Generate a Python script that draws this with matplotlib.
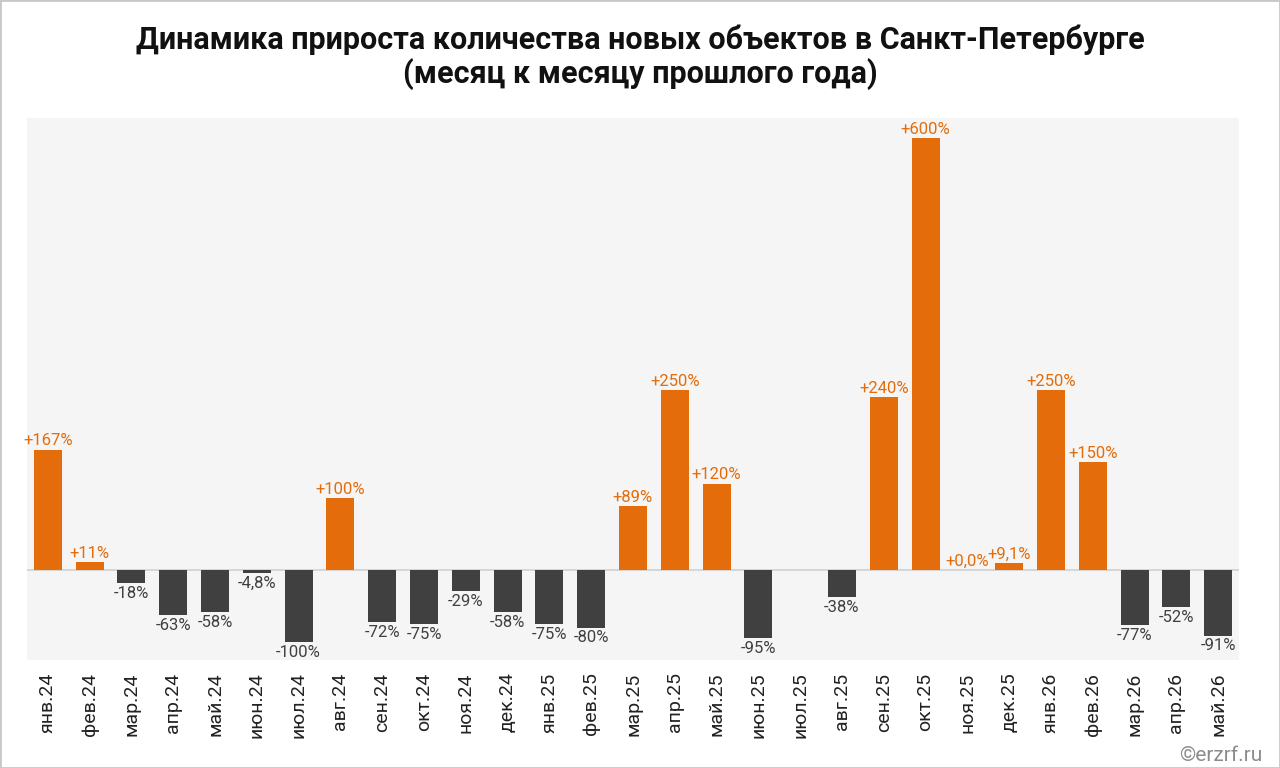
import matplotlib

matplotlib.use("Agg")

import matplotlib.pyplot as plt
import numpy as np
from matplotlib.patches import Rectangle

plt.rcParams["font.family"] = ["Roboto", "DejaVu Sans"]

COLORS = {
    "orange": "#E46C0A",
    "dark": "#404040",
    "background": "#F5F5F5",
    "zero": "#D0D0D0",
    "border": "#C8C8C8",
    "watermark": "#8C8C8C",
}

months = [
    "янв.24", "фев.24", "мар.24", "апр.24", "май.24", "июн.24", "июл.24",
    "авг.24", "сен.24", "окт.24", "ноя.24", "дек.24", "янв.25", "фев.25",
    "мар.25", "апр.25", "май.25", "июн.25", "июл.25", "авг.25", "сен.25",
    "окт.25", "ноя.25", "дек.25", "янв.26", "фев.26", "мар.26", "апр.26",
    "май.26",
]
growth = [
    167, 11, -18, -63, -58, -4.8, -100,
    100, -72, -75, -29, -58, -75, -80,
    89, 250, 120, -95, np.nan, -38, 240,
    600, 0.0, 9.1, 250, 150, -77, -52,
    -91,
]
value_labels = [
    "+167%", "+11%", "-18%", "-63%", "-58%", "-4,8%", "-100%",
    "+100%", "-72%", "-75%", "-29%", "-58%", "-75%", "-80%",
    "+89%", "+250%", "+120%", "-95%", "", "-38%", "+240%",
    "+600%", "+0,0%", "+9,1%", "+250%", "+150%", "-77%", "-52%",
    "-91%",
]

values = np.array(growth, dtype=float)
positions = np.arange(len(months))
colors = [COLORS["orange"] if v >= 0 else COLORS["dark"] for v in np.nan_to_num(values)]

figure = plt.figure(figsize=(12.8, 7.68), dpi=100)
axis = figure.add_axes((27 / 1280, 108 / 768, 1212 / 1280, 542 / 768))
axis.set_facecolor(COLORS["background"])

axis.bar(positions, np.nan_to_num(values), width=0.67, color=colors, zorder=3)
axis.axhline(0, color=COLORS["zero"], linewidth=1.2, zorder=2)

for x, v, text in zip(positions, values, value_labels):
    if np.isnan(v) or not text:
        continue
    if v >= 0:
        axis.annotate(text, (x, v), xytext=(0, 1), textcoords="offset points",
                      ha="center", va="bottom", fontsize=12,
                      color=COLORS["orange"], zorder=4)
    else:
        axis.annotate(text, (x, v), xytext=(0, -2), textcoords="offset points",
                      ha="center", va="top", fontsize=12,
                      color=COLORS["dark"], zorder=4)

axis.set_xlim(-0.5, len(months) - 0.5)
axis.set_ylim(-125, 628)
axis.set_xticks(positions)
axis.set_xticklabels(months, rotation=90, fontsize=14, color="#222222")
axis.tick_params(axis="x", length=0, pad=9)
axis.set_yticks([])
for spine in axis.spines.values():
    spine.set_visible(False)

figure.text(0.5, 0.968, "Динамика прироста количества новых объектов в Санкт-Петербурге\n"
            "(месяц к месяцу прошлого года)", ha="center", va="top",
            fontsize=22, fontweight="bold", color="#111111", linespacing=1.1)
figure.text(0.986, 0.004, "©erzrf.ru", ha="right", va="bottom",
            fontsize=15, color=COLORS["watermark"])

figure.patches.append(Rectangle((0, 0), 1, 1, transform=figure.transFigure,
                                fill=False, edgecolor=COLORS["border"], linewidth=2))

figure.savefig("out.png", dpi=100, facecolor="white")
